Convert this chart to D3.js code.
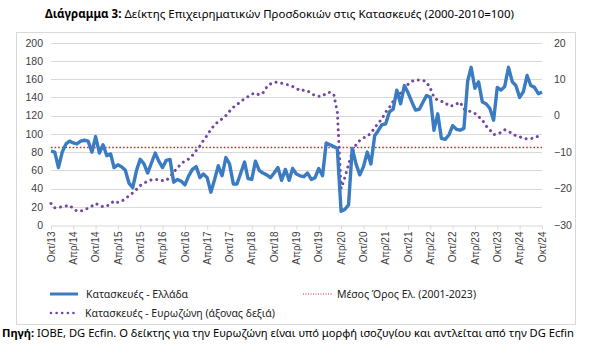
<!DOCTYPE html>
<html>
<head>
<meta charset="utf-8">
<script src="https://cdn.jsdelivr.net/npm/d3@7"></script>
<style>
  body { margin: 0; background: #fff; }
  svg { display: block; font-family: "Noto Sans", "DejaVu Sans", sans-serif; }
</style>
</head>
<body>
<svg id="chart" width="600" height="359"></svg>
<script>
// ---------- DATA ----------
const startYear = 2013, startMonth = 9; // Oct 2013 (0-based month)
const greece = [81,80,63,80,89,92,90,89,92,93,92,80,97,79,88,76,78,63,66,64,
  60,46,41,60,72,67,57,68,79,70,63,71,72,47,50,48,44,54,61,64,
  52,56,52,36,50,65,54,74,67,45,45,57,69,51,50,70,60,57,55,52,
  57,63,49,61,49,62,56,54,53,57,50,52,62,54,90,88,86,84,15,17,
  22,84,67,55,64,80,67,98,104,110,111,124,127,148,133,153,145,135,126,127,
  135,142,140,104,122,95,94,99,109,105,104,106,158,173,150,157,135,133,128,115,
  151,148,152,173,157,153,140,146,164,153,151,144,146];
const eurozone = [-24.1,-25.3,-25.2,-25,-24.8,-24.6,-25.5,-26.2,-26.2,-25.8,-25.4,-24.8,-24.1,-24.6,-25,-24.8,-24.2,-23.4,-23.8,-23.5,
  -22.8,-22,-21.2,-20.2,-19.2,-18.5,-18,-17.6,-17.5,-17.5,-17.8,-17.8,-16.8,-15.5,-14.3,-13.2,-12.4,-11.9,-10.9,-9.6,
  -8.3,-6.8,-5.4,-3.8,-2.5,-1.6,-0.9,0,1.2,2.3,3,3.9,4.6,5.2,5.9,6.2,5.7,6.2,7.8,8.7,
  9.2,9.1,8.9,8.6,8.4,8.0,7.5,6.8,7.0,6.8,6.1,5.5,5.3,5.3,6.2,6.4,5.8,1.0,-20,-17,
  -13.5,-10,-8,-6.8,-6.1,-5.7,-4.8,-3.3,-2,-0.9,1,2.2,3.9,5.2,6.2,7.6,8.6,9.4,9.8,9.8,
  9.7,9.2,7.5,5,4.2,3.9,3.6,2.6,2.7,3.2,3.7,1.8,1.5,1.0,0.6,-0.3,-1.2,-2.8,-3.9,-5.2,
  -5.1,-4.6,-3.9,-4.3,-5.0,-5.5,-5.8,-6.2,-6.4,-6.3,-6.1,-5.6,-5.3];
const meanGreece = 85;
const leftTicks = [0,20,40,60,80,100,120,140,160,180,200];
const rightTicks = [-30,-20,-10,0,10,20];
const monthNames = {3: "Απρ", 9: "Οκτ"};
const titleBold = "Διάγραμμα 3:";
const titleRest = " Δείκτης Επιχειρηματικών Προσδοκιών στις Κατασκευές (2000-2010=100)";
const legendGreece = "Κατασκευές  - Ελλάδα";
const legendMean = "Μέσος Όρος Ελ. (2001-2023)";
const legendEuro = "Κατασκευές - Ευρωζώνη (άξονας δεξιά)";
const sourceBold = "Πηγή:";
const sourceRest = " ΙΟΒΕ, DG Ecfin. Ο δείκτης για την Ευρωζώνη είναι υπό μορφή ισοζυγίου και αντλείται από την DG Ecfin";

// ---------- SETUP ----------
const svg = d3.select("#chart");
const dateOf = i => new Date(startYear, startMonth + i, 1);
const plot = {left: 51, right: 542, top: 42.7, bottom: 225};

const x = d3.scaleTime()
  .domain([dateOf(0), dateOf(132)])
  .range([plot.left, plot.right]);
const yL = d3.scaleLinear().domain([0, 200]).range([plot.bottom, plot.top]);
const yR = d3.scaleLinear().domain([-30, 20]).range([plot.bottom, plot.top]);

// frame
svg.append("rect").attr("x", 16.5).attr("y", 32.5).attr("width", 559).attr("height", 292)
  .attr("fill", "none").attr("stroke", "#d9d9d9").attr("stroke-width", 1);

// title
const title = svg.append("text").attr("x", 45).attr("y", 18)
  .attr("font-size", 11.5).attr("fill", "#000");
title.append("tspan").attr("font-weight", "bold").text(titleBold);
title.append("tspan").text(titleRest);

// gridlines
svg.append("g").selectAll("line").data(leftTicks.filter(d => d > 0)).join("line")
  .attr("x1", plot.left).attr("x2", plot.right)
  .attr("y1", d => Math.round(yL(d)) + 0.5).attr("y2", d => Math.round(yL(d)) + 0.5)
  .attr("stroke", "#d9d9d9").attr("stroke-width", 1);

// left axis
const gL = svg.append("g").attr("transform", `translate(${plot.left - 8},0)`)
  .call(d3.axisLeft(yL).tickValues(leftTicks).tickSize(0).tickPadding(0));
gL.select(".domain").remove();
gL.selectAll("text").attr("font-size", 10.5).attr("fill", "#404040")
  .attr("font-family", "'Liberation Sans', Arial, sans-serif");

// right axis
const gR = svg.append("g").attr("transform", `translate(${plot.right + 12},0)`)
  .call(d3.axisRight(yR).tickValues(rightTicks).tickSize(0).tickPadding(0));
gR.select(".domain").remove();
gR.selectAll("text").attr("font-size", 10.5).attr("fill", "#404040")
  .attr("font-family", "'Liberation Sans', Arial, sans-serif");

// x axis
const xTicks = d3.range(0, 133, 6).map(dateOf);
const gX = svg.append("g").attr("transform", `translate(0,${Math.round(plot.bottom) + 0.5})`)
  .call(d3.axisBottom(x).tickValues(xTicks).tickSizeInner(4).tickSizeOuter(0)
    .tickFormat(d => monthNames[d.getMonth()] + "/" + String(d.getFullYear()).slice(2)));
gX.select(".domain").attr("stroke", "#d9d9d9");
gX.selectAll(".tick line").attr("stroke", "#d9d9d9");
gX.selectAll("text")
  .attr("font-size", 10).attr("fill", "#404040")
  .attr("font-family", "'Liberation Sans', Arial, sans-serif")
  .attr("transform", "rotate(-90)")
  .attr("text-anchor", "end")
  .attr("dx", "-6").attr("dy", "0.32em").attr("y", 0);

// mean line
svg.append("line")
  .attr("x1", plot.left).attr("x2", plot.right)
  .attr("y1", yL(meanGreece)).attr("y2", yL(meanGreece))
  .attr("stroke", "#e3262a").attr("stroke-width", 1.6).attr("stroke-dasharray", "1.6 2");

// eurozone line (right axis)
svg.append("path").datum(eurozone)
  .attr("d", d3.line().x((d, i) => x(dateOf(i))).y(d => yR(d)))
  .attr("fill", "none").attr("stroke", "#7545a3").attr("stroke-width", 3)
  .attr("stroke-linecap", "round").attr("stroke-dasharray", "0.01 5.8");

// greece line
svg.append("path").datum(greece)
  .attr("d", d3.line().x((d, i) => x(dateOf(i))).y(d => yL(d)))
  .attr("fill", "none").attr("stroke", "#3a7bc2").attr("stroke-width", 3.4)
  .attr("stroke-linejoin", "round");

// legend
const lg = svg.append("g").attr("font-size", 10.5).attr("fill", "#222");
lg.append("line").attr("x1", 50).attr("x2", 78).attr("y1", 294).attr("y2", 294)
  .attr("stroke", "#3a7bc2").attr("stroke-width", 3);
lg.append("text").attr("x", 86).attr("y", 297.5).text(legendGreece);
lg.append("line").attr("x1", 303).attr("x2", 333).attr("y1", 294).attr("y2", 294)
  .attr("stroke", "#e3262a").attr("stroke-width", 1.2).attr("stroke-dasharray", "1 1.5");
lg.append("text").attr("x", 337).attr("y", 297.5).text(legendMean);
lg.append("line").attr("x1", 51).attr("x2", 78).attr("y1", 313).attr("y2", 313)
  .attr("stroke", "#7545a3").attr("stroke-width", 2.6).attr("stroke-linecap", "round")
  .attr("stroke-dasharray", "0.01 5.6");
lg.append("text").attr("x", 85).attr("y", 316.5).text(legendEuro);

// source
const src = svg.append("text").attr("x", 2).attr("y", 337).attr("font-size", 10.5).attr("fill", "#000")
  .attr("textLength", 572).attr("lengthAdjust", "spacingAndGlyphs");
src.append("tspan").attr("font-weight", "bold").text(sourceBold);
src.append("tspan").text(sourceRest);
</script>
</body>
</html>
